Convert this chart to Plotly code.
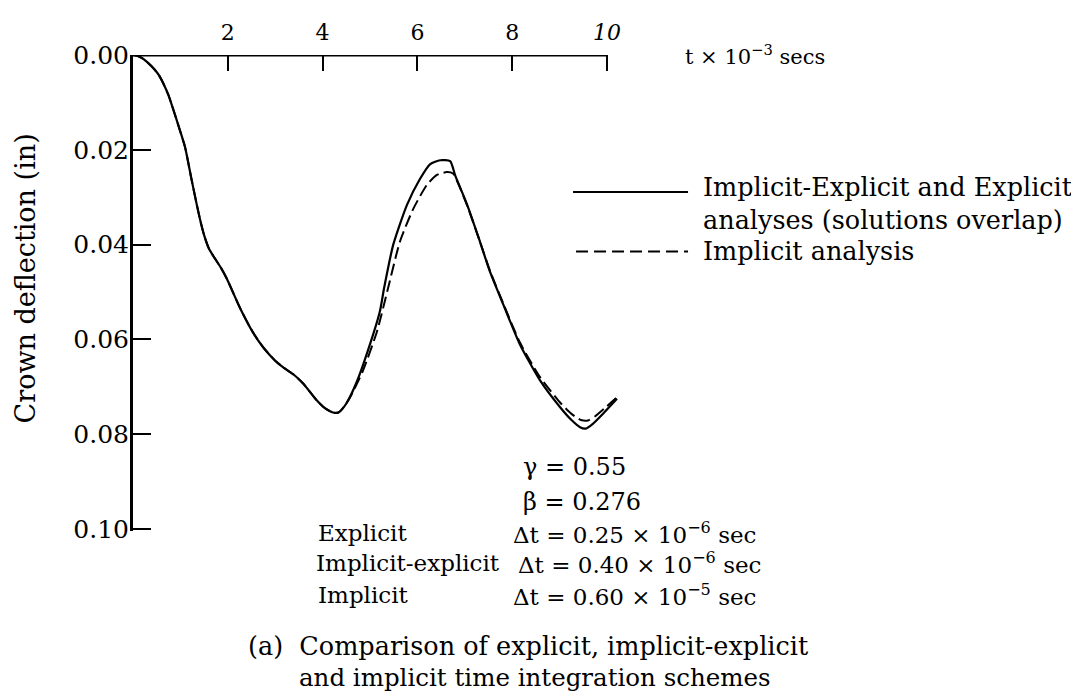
import plotly.graph_objects as go

# ---- data ----
t_solid = [0, 0.1, 0.2, 0.3, 0.45, 0.55, 0.64, 0.75, 0.85, 1.0, 1.1, 1.24, 1.41, 1.5, 1.6,
           1.72, 1.85, 1.98, 2.26, 2.53, 2.75, 3.0, 3.17, 3.4, 3.59, 3.88, 4.05, 4.22, 4.35,
           4.5, 4.73, 5.0, 5.21, 5.3, 5.49, 5.78, 6.05, 6.27, 6.48, 6.69, 6.8, 7.05, 7.32,
           7.53, 7.81, 8.16, 8.59, 9.01, 9.25, 9.43, 9.55, 9.7, 9.92, 10.21]
d_solid = [0, 0.0002, 0.0007, 0.0015, 0.0030, 0.0043, 0.0060, 0.0085, 0.0115, 0.0162,
           0.0195, 0.0265, 0.0345, 0.0380, 0.0408, 0.0428, 0.0448, 0.0472, 0.0534, 0.0585,
           0.0617, 0.0645, 0.0659, 0.0675, 0.0693, 0.0729, 0.0745, 0.0754, 0.0753, 0.0735,
           0.0687, 0.0610, 0.0540, 0.0490, 0.0400, 0.0316, 0.0262, 0.0230, 0.0222, 0.0224,
           0.0255, 0.0316, 0.0394, 0.0457, 0.0526, 0.0610, 0.0687, 0.0743, 0.0770, 0.0785,
           0.0788, 0.0778, 0.0756, 0.0725]

t_dash = [0, 0.1, 0.2, 0.3, 0.45, 0.55, 0.64, 0.75, 0.85, 1.0, 1.1, 1.24, 1.41, 1.5, 1.6,
          1.72, 1.85, 1.98, 2.26, 2.53, 2.75, 3.0, 3.17, 3.4, 3.59, 3.88, 4.05, 4.22, 4.32,
          4.45, 4.58, 4.85, 5.15, 5.38, 5.63, 5.91, 6.2, 6.41, 6.62, 6.75, 7.05, 7.32, 7.53,
          7.81, 8.16, 8.59, 9.01, 9.25, 9.45, 9.6, 9.75, 9.95, 10.25]
d_dash = [0, 0.0002, 0.0007, 0.0015, 0.0030, 0.0043, 0.0060, 0.0085, 0.0115, 0.0162,
          0.0195, 0.0265, 0.0345, 0.0380, 0.0408, 0.0428, 0.0448, 0.0472, 0.0534, 0.0585,
          0.0617, 0.0645, 0.0659, 0.0675, 0.0693, 0.0729, 0.0745, 0.0754, 0.0755, 0.0742,
          0.0722, 0.0666, 0.0582, 0.0492, 0.0394, 0.0325, 0.0274, 0.0253, 0.0247, 0.0250,
          0.0318, 0.0394, 0.0455, 0.0524, 0.0606, 0.0680, 0.0733, 0.0757, 0.0770, 0.0771,
          0.0762, 0.0745, 0.0718]

x_tickvals = [2, 4, 6, 8, 10]
x_ticktext = ["2", "4", "6", "8", "<i>10</i>"]
y_tickvals = [0.00, 0.02, 0.04, 0.06, 0.08, 0.10]
y_ticktext = ["0.00", "0.02", "0.04", "0.06", "0.08", "0.10"]

# ---- layout geometry (pixels; page body adds an 8px offset) ----
OFF = 8
W_FIG, H_FIG = 1079, 698
X_MAX = 10.4
Y_MAX = 0.1004
L, T = 133 - OFF, 52 - OFF
PW, PH = 47.4 * X_MAX, 4775 * Y_MAX
R = W_FIG - L - PW
B = H_FIG - T - PH
FONT = "DejaVu Serif"


def px(x):
    return (x - OFF - L) / PW


def py(y):
    return 1 - (y - OFF - T) / PH


fig = go.Figure()
fig.add_trace(go.Scatter(x=t_solid, y=d_solid, mode="lines",
                         line=dict(color="black", width=2.2, shape="spline", smoothing=0.6),
                         name="Implicit-Explicit and Explicit analyses (solutions overlap)"))
fig.add_trace(go.Scatter(x=t_dash, y=d_dash, mode="lines",
                         line=dict(color="black", width=2, dash="12px,5px", shape="spline",
                                   smoothing=0.6),
                         name="Implicit analysis"))

fig.update_layout(
    width=W_FIG, height=H_FIG,
    margin=dict(l=L, r=R, t=T, b=B, pad=0),
    paper_bgcolor="white", plot_bgcolor="white",
    showlegend=False,
    font=dict(family=FONT, color="black", size=22),
    xaxis=dict(range=[0, X_MAX], side="top", showgrid=False, zeroline=False, showline=False,
               tickvals=x_tickvals, ticktext=x_ticktext, ticks="inside", ticklen=16,
               tickwidth=2, tickcolor="black", tickfont=dict(size=22, family=FONT),
               ticklabelstandoff=10, fixedrange=True),
    yaxis=dict(range=[Y_MAX, 0.0], showgrid=False, zeroline=False, showline=True,
               linecolor="black", linewidth=3, tickvals=y_tickvals, ticktext=y_ticktext,
               ticks="inside", ticklen=18, tickwidth=2, tickcolor="black",
               tickfont=dict(size=25, family=FONT), ticklabelstandoff=-4, fixedrange=True),
)

# top axis line from t=0 to t=10
fig.add_shape(type="line", xref="x", yref="y", x0=0, x1=10, y0=0, y1=0,
              line=dict(color="black", width=3))

# legend samples
fig.add_shape(type="line", xref="paper", yref="paper", x0=px(573), x1=px(688),
              y0=py(190), y1=py(190), line=dict(color="black", width=2))
fig.add_shape(type="line", xref="paper", yref="paper", x0=px(576), x1=px(688),
              y0=py(250), y1=py(250), line=dict(color="black", width=2, dash="12px,6px"))


def note(text, x, y, size=23, xanchor="left", angle=0):
    fig.add_annotation(text=text, x=px(x), y=py(y), xref="paper", yref="paper",
                       xanchor=xanchor, yanchor="middle", showarrow=False, textangle=angle,
                       font=dict(family=FONT, size=size, color="black"))


note("t × 10<sup>−3</sup> secs", 683, 52, size=21)
note("Implicit-Explicit and Explicit", 701, 185, size=25.5)
note("analyses (solutions overlap)", 701, 218, size=25.5)
note("Implicit analysis", 701, 249, size=25.5)

note("γ = 0.55", 521, 467, size=24)
note("β = 0.276", 521, 502, size=24)
note("Explicit", 316, 533)
note("Δt = 0.25 × 10<sup>−6</sup> sec", 511, 533)
note("Implicit-explicit", 314, 564)
note("Δt = 0.40 × 10<sup>−6</sup> sec", 516, 564)
note("Implicit", 316, 596)
note("Δt = 0.60 × 10<sup>−5</sup> sec", 511, 596)

note("(a)  Comparison of explicit, implicit-explicit", 246, 647, size=25.5)
note("and implicit time integration schemes", 297, 679, size=24.5)

note("Crown deflection (in)", 25, 277, size=27, xanchor="center", angle=-90)

fig.write_html("out.html")
